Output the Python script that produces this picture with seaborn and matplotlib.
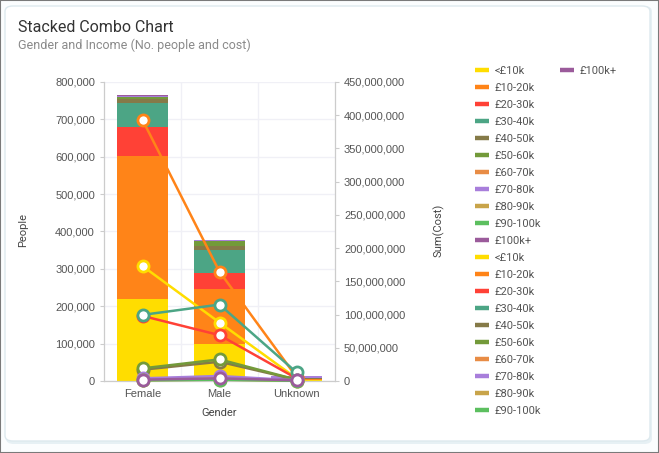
import matplotlib
matplotlib.use("Agg")
import matplotlib.pyplot as plt
from matplotlib.patches import FancyBboxPatch, Rectangle
from matplotlib.lines import Line2D
from matplotlib.ticker import FuncFormatter, MultipleLocator
import numpy as np
import pandas as pd
import seaborn as sns

# ---------------- data ----------------
genders = ["Female", "Male", "Unknown"]
incomes = ["<£10k", "£10-20k", "£20-30k", "£30-40k", "£40-50k", "£50-60k",
           "£60-70k", "£70-80k", "£80-90k", "£90-100k", "£100k+"]
colors = ["#FFDD00", "#FF8418", "#FF4136", "#4CA585", "#857A48", "#739A3A",
          "#E88C45", "#A87EDB", "#C8A44A", "#5CBF5F", "#9B5B9B"]

people_lt10 = [219000, 99000, 1500]
people_10_20 = [383000, 147000, 3000]
people_20_30 = [77000, 42000, 1000]
people_30_40 = [66000, 62000, 1000]
people_40_50 = [10000, 11000, 500]
people_50_60 = [5000, 12500, 500]
people_60_70 = [1000, 1500, 300]
people_70_80 = [2000, 2000, 5000]
people_80_90 = [300, 300, 200]
people_90_100 = [300, 300, 200]
people_100p = [500, 500, 500]

cost_lt10 = [173e6, 88e6, 4e6]
cost_10_20 = [393e6, 164.5e6, 6e6]
cost_20_30 = [98e6, 69e6, 4e6]
cost_30_40 = [99.5e6, 115e6, 13e6]
cost_40_50 = [17e6, 29e6, 2e6]
cost_50_60 = [19e6, 32.5e6, 2e6]
cost_60_70 = [1.5e6, 3e6, 0.5e6]
cost_70_80 = [4e6, 7.5e6, 1e6]
cost_80_90 = [1e6, 2e6, 0.3e6]
cost_90_100 = [1e6, 2e6, 0.3e6]
cost_100p = [2e6, 4e6, 1e6]

people = [people_lt10, people_10_20, people_20_30, people_30_40, people_40_50,
          people_50_60, people_60_70, people_70_80, people_80_90, people_90_100,
          people_100p]
costs = [cost_lt10, cost_10_20, cost_20_30, cost_30_40, cost_40_50, cost_50_60,
         cost_60_70, cost_70_80, cost_80_90, cost_90_100, cost_100p]

rows = []
for inc, pv, cv in zip(incomes, people, costs):
    for g, p, c in zip(genders, pv, cv):
        rows.append({"Gender": g, "Income": inc, "People": p, "Cost": c})
df = pd.DataFrame(rows)

# ---------------- figure ----------------
sns.set_theme(style="white")
plt.rcParams["font.family"] = ["Liberation Sans", "DejaVu Sans"]

fig = plt.figure(figsize=(6.59, 4.53), dpi=100)
W, H = 659, 453

def fx(x):
    return x / W

def fy(y):
    return 1 - y / H

# outer border
fig.patches.append(Rectangle((0, 0), 1, 1, transform=fig.transFigure,
                             facecolor="#fbfdfe", edgecolor="#7a7a7a",
                             linewidth=1.5, zorder=-3))
# shadow + card
fig.patches.append(FancyBboxPatch((fx(6), fy(444)), fx(646), 438 / H,
                                  boxstyle="round,pad=0,rounding_size=0.012",
                                  transform=fig.transFigure,
                                  facecolor="#e6f0f4", edgecolor="none", zorder=-2))
fig.patches.append(FancyBboxPatch((fx(5), fy(441)), fx(645), 435 / H,
                                  boxstyle="round,pad=0,rounding_size=0.012",
                                  transform=fig.transFigure,
                                  facecolor="white", edgecolor="#dde9ee",
                                  linewidth=1.0, zorder=-1))

ax = fig.add_axes([fx(104), fy(381), fx(335 - 104), (381 - 82) / H])
ax.set_facecolor("none")

# stacked bars via cumulative layers (drawn top-down)
totals = np.zeros(len(genders))
cum_layers = []
for inc, pv in zip(incomes, people):
    totals = totals + np.array(pv, dtype=float)
    cum_layers.append(totals.copy())

for i in reversed(range(len(incomes))):
    layer = pd.DataFrame({"Gender": genders, "Value": cum_layers[i]})
    sns.barplot(data=layer, x="Gender", y="Value", order=genders,
                color=colors[i], saturation=1, width=0.66, ax=ax,
                errorbar=None, zorder=2, linewidth=0, edgecolor="none")

ax.set_ylim(0, 800000)
ax.set_xlim(-0.5, 2.5)
ax.yaxis.set_major_locator(MultipleLocator(100000))
ax.yaxis.set_major_formatter(FuncFormatter(lambda v, p: f"{int(v):,}"))
ax.set_xticks([0, 1, 2])
ax.set_xticklabels(genders)
ax.set_xticks([0.5, 1.5], minor=True)
ax.grid(axis="y", color="#f0f0f6", linewidth=1, zorder=0)
ax.grid(axis="x", which="minor", color="#f0f0f6", linewidth=1, zorder=0)
ax.set_axisbelow(True)
ax.tick_params(axis="both", which="major", labelsize=8, colors="#555555",
               length=3, width=0.8)
ax.tick_params(axis="x", which="major", length=0, pad=6)
ax.tick_params(axis="x", which="minor", length=0)
ax.tick_params(axis="y", colors="#cccccc", labelcolor="#555555")
for s in ["top", "right"]:
    ax.spines[s].set_visible(False)
for s in ["left", "bottom"]:
    ax.spines[s].set_color("#cccccc")
    ax.spines[s].set_linewidth(0.9)
ax.set_ylabel("People", fontsize=8, color="#444444", family=["Roboto", "DejaVu Sans"])
ax.set_xlabel("Gender", fontsize=8, color="#444444", family=["Roboto", "DejaVu Sans"],
              labelpad=6)
ax.yaxis.set_label_coords(-0.33, 0.505)

# lines on twin axis
ax2 = ax.twinx()
sns.lineplot(data=df, x="Gender", y="Cost", hue="Income", hue_order=incomes,
             palette=colors, marker="o", markersize=8, linewidth=1.8,
             sort=False, ax=ax2, legend=False, zorder=5)
for ln in ax2.lines:
    c = ln.get_color()
    ln.set_markerfacecolor("white")
    ln.set_markeredgecolor(c)
    ln.set_markeredgewidth(2.0)
    ln.set_clip_on(False)
ax2.set_ylim(0, 450000000)
ax2.set_xlim(-0.5, 2.5)
ax2.yaxis.set_major_locator(MultipleLocator(50000000))
ax2.yaxis.set_major_formatter(FuncFormatter(lambda v, p: f"{int(v):,}"))
ax2.tick_params(axis="y", labelsize=8, colors="#cccccc", labelcolor="#555555",
                length=3, width=0.8)
for s in ["top", "left", "bottom"]:
    ax2.spines[s].set_visible(False)
ax2.spines["right"].set_color("#cccccc")
ax2.spines["right"].set_linewidth(0.9)
ax2.set_ylabel("Sum(Cost)", fontsize=8, color="#444444",
               family=["Roboto", "DejaVu Sans"])
ax2.yaxis.set_label_coords(1.425, 0.505)
ax2.grid(False)

# titles
fig.text(fx(18), fy(27), "Stacked Combo Chart", fontsize=11.5, color="#333333",
         family=["Roboto", "DejaVu Sans"], va="center", ha="left")
fig.text(fx(18), fy(45), "Gender and Income (No. people and cost)", fontsize=9,
         color="#8a8a8a", family=["Roboto", "DejaVu Sans"], va="center", ha="left")

# legend
lw_h = 3.2
handles1 = [Line2D([0], [0], color=c, lw=lw_h, solid_capstyle="butt") for c in colors] + \
           [Line2D([0], [0], color=c, lw=lw_h, solid_capstyle="butt") for c in colors[:-1]]
labels1 = incomes + incomes[:-1]
leg_kw = dict(loc="upper left", frameon=False, labelspacing=0.63,
              handlelength=1.3, handletextpad=0.5, borderaxespad=0, borderpad=0,
              prop={"family": ["Roboto", "DejaVu Sans"], "size": 8})
leg1 = fig.legend(handles1, labels1, bbox_to_anchor=(fx(475), fy(66)), **leg_kw)
for t in leg1.get_texts():
    t.set_color("#555555")
leg2 = fig.legend([Line2D([0], [0], color=colors[-1], lw=lw_h, solid_capstyle="butt")],
                  [incomes[-1]], bbox_to_anchor=(fx(560), fy(66)), **leg_kw)
for t in leg2.get_texts():
    t.set_color("#555555")

fig.savefig("out.png", dpi=100)
